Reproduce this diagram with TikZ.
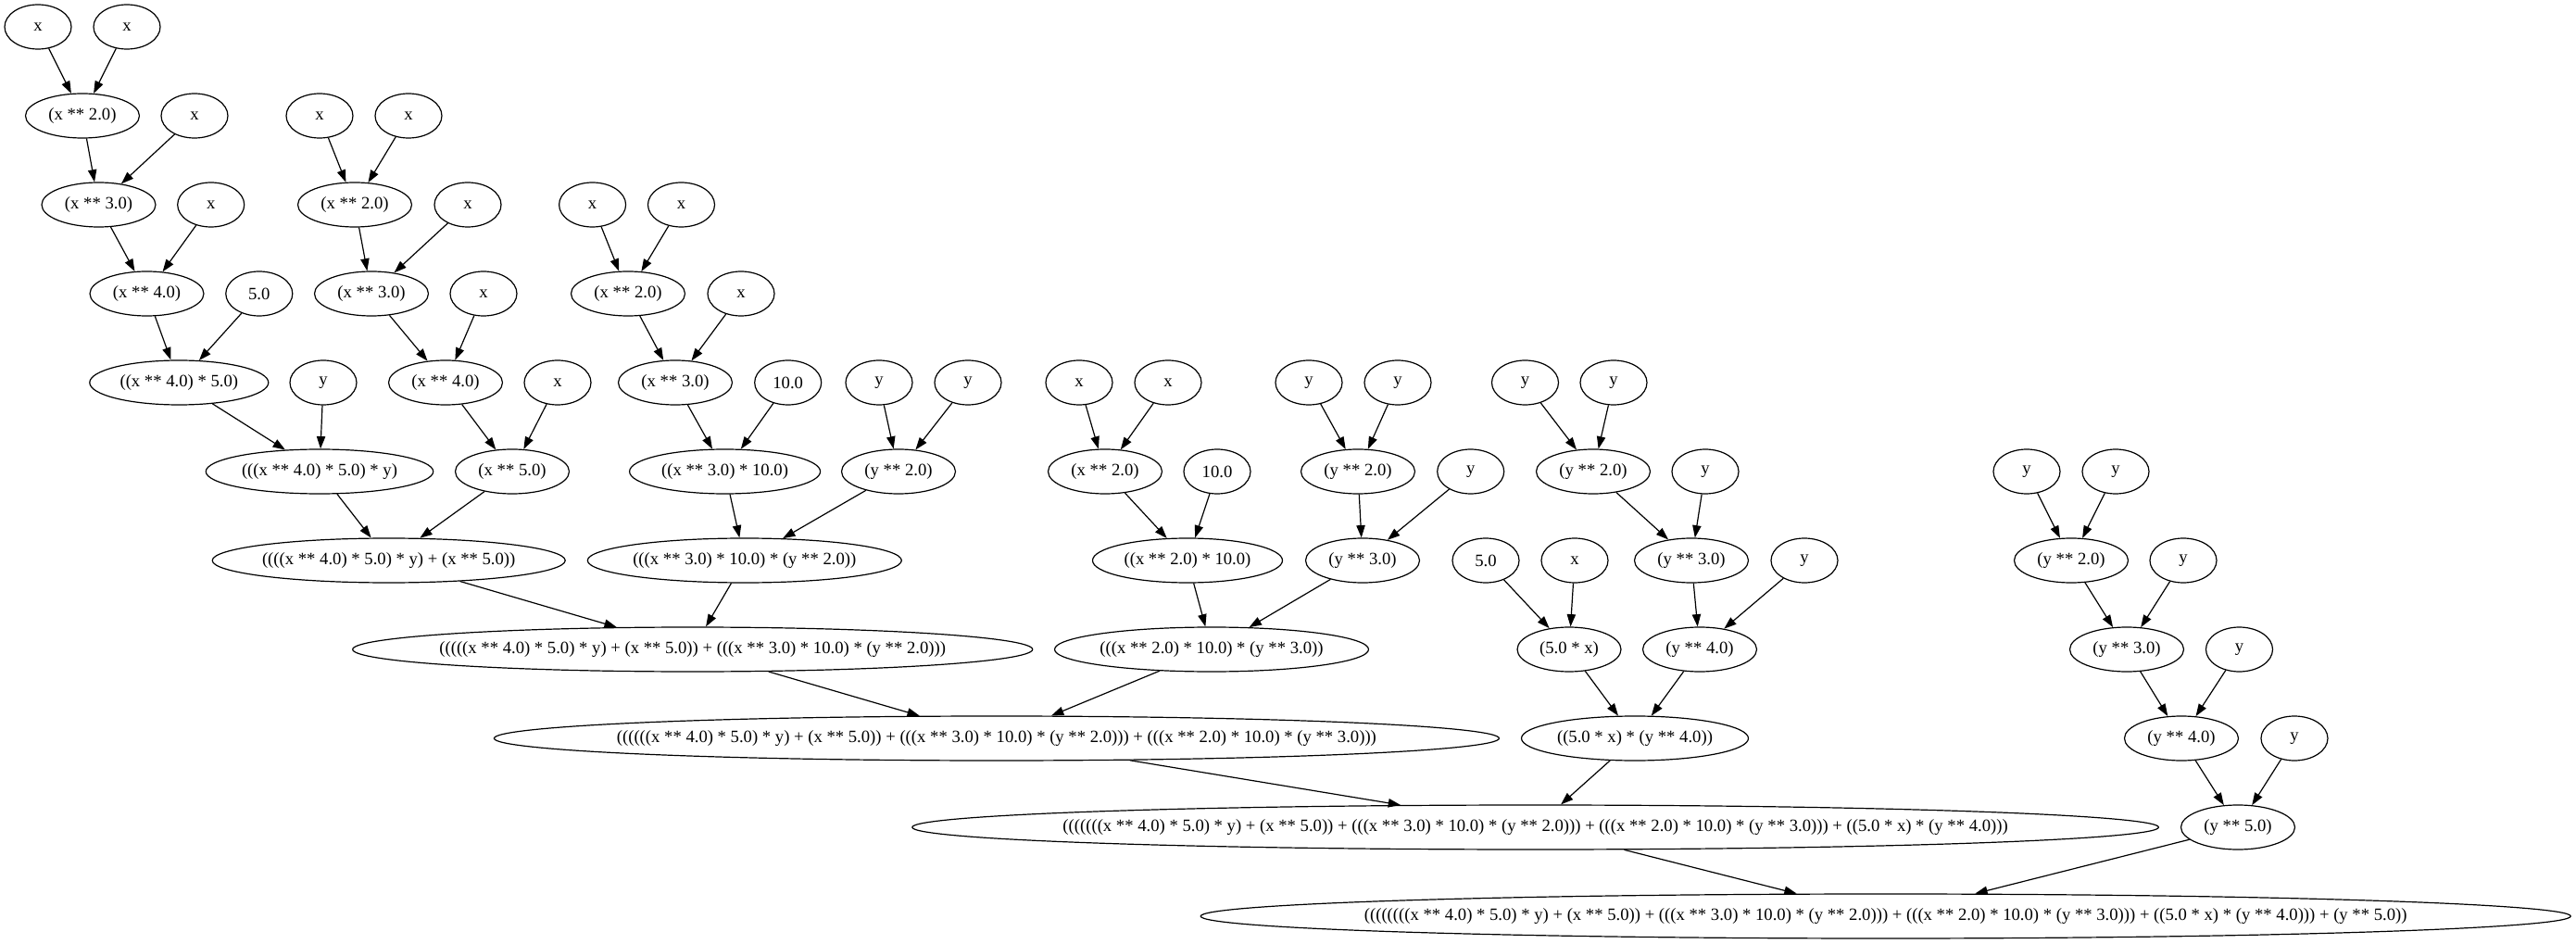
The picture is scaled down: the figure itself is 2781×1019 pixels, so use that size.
\documentclass[tikz,border=0pt]{standalone}
\usepackage{fontspec}
\setmainfont{Liberation Serif}
\usetikzlibrary{arrows.meta,shapes.geometric}
\newcommand{\gvt}[1]{\makebox[0pt]{#1}}
\newcommand{\gvfont}{\fontsize{14pt}{16pt}\selectfont}
\tikzset{
  gn/.style={draw, ellipse, line width=0.9pt, minimum width=54pt, minimum height=36pt, inner sep=0pt, font=\gvfont},
  gw/.style={minimum width=#1*0.75pt},
  ar/.style={-{Triangle[length=10pt,width=7pt]}, line width=0.9pt},
}
\begin{document}
\begin{tikzpicture}[x=0.75pt,y=-0.75pt]
\useasboundingbox[fill=white] (0,0) rectangle (2781,1019);
% first x chain
\node[gn] (x1) at (41,29) {\gvt{x}};
\node[gn] (x2) at (137,29) {\gvt{x}};
\node[gn,gw=123] (p2a) at (89,125) {\gvt{(x ** 2.0)}};
\node[gn] (x3) at (210,125) {\gvt{x}};
\node[gn,gw=123] (p3a) at (106.5,221) {\gvt{(x ** 3.0)}};
\node[gn] (x4) at (227.7,221) {\gvt{x}};
\node[gn,gw=123] (p4a) at (158.5,317) {\gvt{(x ** 4.0)}};
\node[gn] (c5) at (279.8,317) {\gvt{5.0}};
\node[gn,gw=193] (m45) at (193.3,413) {\gvt{((x ** 4.0) * 5.0)}};
\node[gn] (yA) at (349,413) {\gvt{y}};
\node[gn,gw=245.5] (myA) at (345,509) {\gvt{(((x ** 4.0) * 5.0) * y)}};
% second x chain
\node[gn] (x5) at (345,125) {\gvt{x}};
\node[gn] (x6) at (441,125) {\gvt{x}};
\node[gn,gw=123] (p2b) at (383,221) {\gvt{(x ** 2.0)}};
\node[gn] (x7) at (505,221) {\gvt{x}};
\node[gn,gw=123] (p3b) at (401,317) {\gvt{(x ** 3.0)}};
\node[gn] (x8) at (522,317) {\gvt{x}};
\node[gn,gw=123] (p4b) at (481,413) {\gvt{(x ** 4.0)}};
\node[gn] (x9) at (602,413) {\gvt{x}};
\node[gn,gw=123] (p5b) at (553,509) {\gvt{(x ** 5.0)}};
\node[gn,gw=381] (s1) at (419.7,605) {\gvt{((((x ** 4.0) * 5.0) * y) + (x ** 5.0))}};
% third x chain
\node[gn] (x10) at (639.6,221) {\gvt{x}};
\node[gn] (x11) at (735.5,221) {\gvt{x}};
\node[gn,gw=123] (p2c) at (678,317) {\gvt{(x ** 2.0)}};
\node[gn] (x12) at (800,317) {\gvt{x}};
\node[gn,gw=123] (p3c) at (729,413) {\gvt{(x ** 3.0)}};
\node[gn] (c10a) at (850.7,413) {\gvt{10.0}};
\node[gn,gw=206] (m310) at (782.6,509) {\gvt{((x ** 3.0) * 10.0)}};
\node[gn] (yB) at (949,413) {\gvt{y}};
\node[gn] (yC) at (1045,413) {\gvt{y}};
\node[gn,gw=123] (py2a) at (970,509) {\gvt{(y ** 2.0)}};
\node[gn,gw=339] (s2b) at (803.8,605) {\gvt{(((x ** 3.0) * 10.0) * (y ** 2.0))}};
\node[gn,gw=734] (s2) at (747.7,701) {\gvt{(((((x ** 4.0) * 5.0) * y) + (x ** 5.0)) + (((x ** 3.0) * 10.0) * (y ** 2.0)))}};
% fourth group
\node[gn] (x13) at (1165,413) {\gvt{x}};
\node[gn] (x14) at (1261,413) {\gvt{x}};
\node[gn,gw=123] (p2d) at (1193,509) {\gvt{(x ** 2.0)}};
\node[gn] (c10b) at (1314,509) {\gvt{10.0}};
\node[gn,gw=205] (m210) at (1282,605) {\gvt{((x ** 2.0) * 10.0)}};
\node[gn] (yD) at (1413,413) {\gvt{y}};
\node[gn] (yE) at (1509,413) {\gvt{y}};
\node[gn,gw=123] (py2b) at (1466,509) {\gvt{(y ** 2.0)}};
\node[gn] (yH) at (1587.7,509) {\gvt{y}};
\node[gn,gw=123] (py3a) at (1471,605) {\gvt{(y ** 3.0)}};
\node[gn,gw=339] (s2c) at (1308,701) {\gvt{(((x ** 2.0) * 10.0) * (y ** 3.0))}};
\node[gn,gw=1085] (s3) at (1075.9,797) {\gvt{((((((x ** 4.0) * 5.0) * y) + (x ** 5.0)) + (((x ** 3.0) * 10.0) * (y ** 2.0))) + (((x ** 2.0) * 10.0) * (y ** 3.0)))}};
% fifth group
\node[gn] (yF) at (1646.5,413) {\gvt{y}};
\node[gn] (yG) at (1742,413) {\gvt{y}};
\node[gn,gw=123] (py2c) at (1720,509) {\gvt{(y ** 2.0)}};
\node[gn] (yI) at (1841,509) {\gvt{y}};
\node[gn,gw=123] (py3b) at (1826,605) {\gvt{(y ** 3.0)}};
\node[gn] (yK) at (1948,605) {\gvt{y}};
\node[gn,gw=123] (py4a) at (1835,701) {\gvt{(y ** 4.0)}};
\node[gn] (c5b) at (1604,605) {\gvt{5.0}};
\node[gn] (xJ) at (1700,605) {\gvt{x}};
\node[gn,gw=112] (m5x) at (1694,701) {\gvt{(5.0 * x)}};
\node[gn,gw=245] (mm) at (1765,797) {\gvt{((5.0 * x) * (y ** 4.0))}};
\node[gn,gw=1345.6] (s4) at (1657.6,893) {\gvt{(((((((x ** 4.0) * 5.0) * y) + (x ** 5.0)) + (((x ** 3.0) * 10.0) * (y ** 2.0))) + (((x ** 2.0) * 10.0) * (y ** 3.0))) + ((5.0 * x) * (y ** 4.0)))}};
% last y chain
\node[gn] (yL) at (2188,509) {\gvt{y}};
\node[gn] (yM) at (2284,509) {\gvt{y}};
\node[gn,gw=123] (py2d) at (2236,605) {\gvt{(y ** 2.0)}};
\node[gn] (yN) at (2357,605) {\gvt{y}};
\node[gn,gw=123] (py3c) at (2296,701) {\gvt{(y ** 3.0)}};
\node[gn] (yO) at (2417.5,701) {\gvt{y}};
\node[gn,gw=123] (py4b) at (2355,797) {\gvt{(y ** 4.0)}};
\node[gn] (yP) at (2477,797) {\gvt{y}};
\node[gn,gw=123] (py5) at (2416,893) {\gvt{(y ** 5.0)}};
\node[gn,gw=1479] (s5) at (2035.7,989) {\gvt{((((((((x ** 4.0) * 5.0) * y) + (x ** 5.0)) + (((x ** 3.0) * 10.0) * (y ** 2.0))) + (((x ** 2.0) * 10.0) * (y ** 3.0))) + ((5.0 * x) * (y ** 4.0))) + (y ** 5.0))}};
% edges
\foreach \a/\b in {x1/p2a,x2/p2a,p2a/p3a,x3/p3a,p3a/p4a,x4/p4a,p4a/m45,c5/m45,m45/myA,yA/myA,myA/s1,p5b/s1,
  x5/p2b,x6/p2b,p2b/p3b,x7/p3b,p3b/p4b,x8/p4b,p4b/p5b,x9/p5b,
  x10/p2c,x11/p2c,p2c/p3c,x12/p3c,p3c/m310,c10a/m310,m310/s2b,py2a/s2b,yB/py2a,yC/py2a,
  s1/s2,s2b/s2,
  x13/p2d,x14/p2d,p2d/m210,c10b/m210,yD/py2b,yE/py2b,py2b/py3a,yH/py3a,m210/s2c,py3a/s2c,
  s2/s3,s2c/s3,
  yF/py2c,yG/py2c,py2c/py3b,yI/py3b,py3b/py4a,yK/py4a,
  c5b/m5x,xJ/m5x,m5x/mm,py4a/mm,
  s3/s4,mm/s4,
  yL/py2d,yM/py2d,py2d/py3c,yN/py3c,py3c/py4b,yO/py4b,py4b/py5,yP/py5,
  s4/s5,py5/s5}
  \draw[ar] (\a) -- (\b);
\end{tikzpicture}
\end{document}
